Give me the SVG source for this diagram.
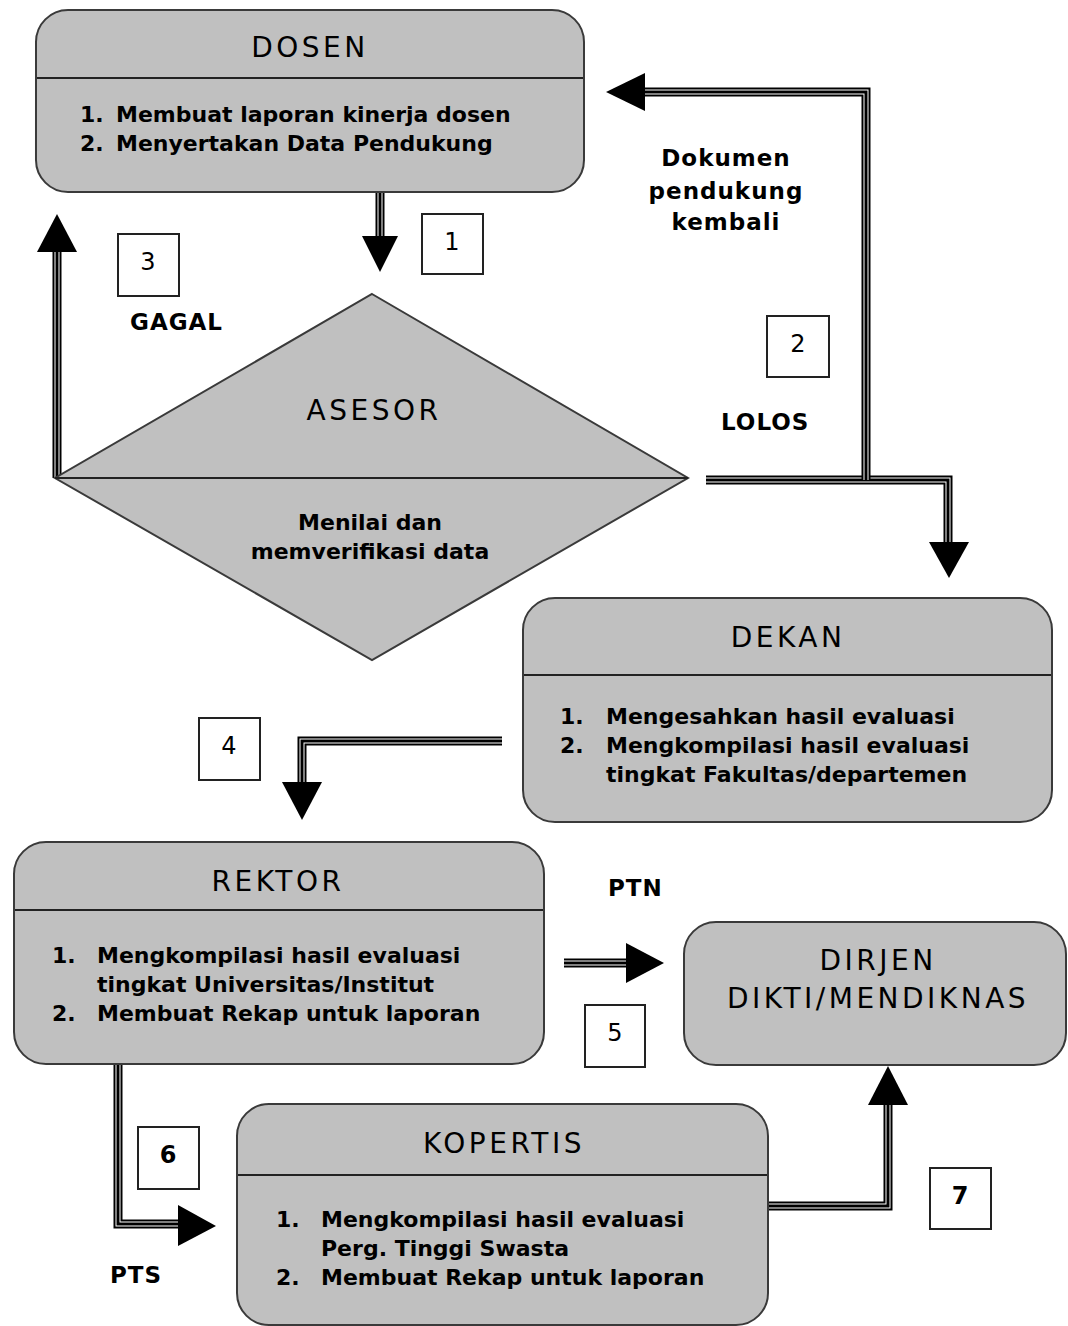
<svg xmlns="http://www.w3.org/2000/svg" width="1068" height="1326" viewBox="0 0 1068 1326">
<style>
.node{fill:#c0c0c0;stroke:#3a3a3a;stroke-width:2}
.div{stroke:#222;stroke-width:2}
.title{font-family:"DejaVu Sans",sans-serif;font-size:28px;letter-spacing:3.5px;fill:#000;text-anchor:middle}
.item{font-family:"DejaVu Sans",sans-serif;font-size:22px;font-weight:bold;fill:#000}
.lbl{font-family:"DejaVu Sans",sans-serif;font-size:23px;font-weight:bold;letter-spacing:1px;fill:#000}
.num{font-family:"DejaVu Sans",sans-serif;font-size:24px;fill:#000;text-anchor:middle}
.nbox{fill:#fff;stroke:#222;stroke-width:2}
.w1{fill:none;stroke:#000;stroke-width:9}
.w2{fill:none;stroke:#fff;stroke-width:5}
.w3{fill:none;stroke:#000;stroke-width:3}
.head{fill:#000}
</style>
<rect width="1068" height="1326" fill="#fff"/>

<g id="connectors">
  <!-- 1: DOSEN -> ASESOR -->
  <path class="w1" d="M380,192 V240"/><path class="w2" d="M380,192 V240"/><path class="w3" d="M380,192 V240"/>
  <polygon class="head" points="362,236 398,236 380,272"/>
  <!-- 3: GAGAL -->
  <path class="w1" d="M57,478 V248"/><path class="w2" d="M57,478 V248"/><path class="w3" d="M57,478 V248"/>
  <polygon class="head" points="37,252 77,252 57,214"/>
  <!-- 2: LOLOS -->
  <path class="w1" d="M706,480 H948 V546"/><path class="w2" d="M706,480 H948 V546"/><path class="w3" d="M706,480 H948 V546"/>
  <polygon class="head" points="929,542 969,542 949,578"/>
  <!-- Dokumen pendukung kembali -->
  <path class="w1" d="M866,480 V92 H640"/><path class="w2" d="M866,480 V92 H640"/><path class="w3" d="M866,480 V92 H640"/>
  <polygon class="head" points="645,73 645,111 606,92"/>
  <!-- 4: DEKAN -> REKTOR -->
  <path class="w1" d="M502,741 H302 V786"/><path class="w2" d="M502,741 H302 V786"/><path class="w3" d="M502,741 H302 V786"/>
  <polygon class="head" points="282,782 322,782 302,820"/>
  <!-- 5: REKTOR -> DIRJEN -->
  <path class="w1" d="M564,963 H630"/><path class="w2" d="M564,963 H630"/><path class="w3" d="M564,963 H630"/>
  <polygon class="head" points="626,943 626,983 664,963"/>
  <!-- 6: REKTOR -> KOPERTIS -->
  <path class="w1" d="M118,1064 V1224 H182"/><path class="w2" d="M118,1064 V1224 H182"/><path class="w3" d="M118,1064 V1224 H182"/>
  <polygon class="head" points="178,1205 178,1246 216,1226"/>
  <!-- 7: KOPERTIS -> DIRJEN -->
  <path class="w1" d="M768,1206 H888 V1100"/><path class="w2" d="M768,1206 H888 V1100"/><path class="w3" d="M768,1206 H888 V1100"/>
  <polygon class="head" points="868,1105 908,1105 888,1066"/>
</g>

<g id="dosen">
  <rect class="node" x="36" y="10" width="548" height="182" rx="32"/>
  <line class="div" x1="37" y1="78" x2="583" y2="78"/>
  <text class="title" x="310" y="57">DOSEN</text>
  <text class="item" x="80" y="122">1.</text><text class="item" x="116" y="122">Membuat laporan kinerja dosen</text>
  <text class="item" x="80" y="151">2.</text><text class="item" x="116" y="151">Menyertakan Data Pendukung</text>
</g>

<g id="asesor">
  <polygon class="node" points="372,294 688,478 372,660 55,478"/>
  <line class="div" x1="55" y1="478" x2="688" y2="478"/>
  <text class="title" x="374" y="420">ASESOR</text>
  <text class="item" x="370" y="530" text-anchor="middle">Menilai dan</text>
  <text class="item" x="370" y="559" text-anchor="middle">memverifikasi data</text>
</g>

<g id="dekan">
  <rect class="node" x="523" y="598" width="529" height="224" rx="32"/>
  <line class="div" x1="524" y1="675" x2="1051" y2="675"/>
  <text class="title" x="788" y="647">DEKAN</text>
  <text class="item" x="560" y="724">1.</text><text class="item" x="606" y="724">Mengesahkan hasil evaluasi</text>
  <text class="item" x="560" y="753">2.</text><text class="item" x="606" y="753">Mengkompilasi hasil evaluasi</text>
  <text class="item" x="606" y="782">tingkat Fakultas/departemen</text>
</g>

<g id="rektor">
  <rect class="node" x="14" y="842" width="530" height="222" rx="32"/>
  <line class="div" x1="15" y1="910" x2="543" y2="910"/>
  <text class="title" x="278" y="891">REKTOR</text>
  <text class="item" x="52" y="963">1.</text><text class="item" x="97" y="963">Mengkompilasi hasil evaluasi</text>
  <text class="item" x="97" y="992">tingkat Universitas/Institut</text>
  <text class="item" x="52" y="1021">2.</text><text class="item" x="97" y="1021">Membuat Rekap untuk laporan</text>
</g>

<g id="dirjen">
  <rect class="node" x="684" y="922" width="382" height="143" rx="32"/>
  <text class="title" x="878" y="970">DIRJEN</text>
  <text class="title" x="878" y="1008">DIKTI/MENDIKNAS</text>
</g>

<g id="kopertis">
  <rect class="node" x="237" y="1104" width="531" height="221" rx="32"/>
  <line class="div" x1="238" y1="1175" x2="767" y2="1175"/>
  <text class="title" x="504" y="1153">KOPERTIS</text>
  <text class="item" x="276" y="1227">1.</text><text class="item" x="321" y="1227">Mengkompilasi hasil evaluasi</text>
  <text class="item" x="321" y="1256">Perg. Tinggi Swasta</text>
  <text class="item" x="276" y="1285">2.</text><text class="item" x="321" y="1285">Membuat Rekap untuk laporan</text>
</g>

<g id="labels">
  <rect class="nbox" x="422" y="214" width="61" height="60"/><text class="num" x="452" y="250">1</text>
  <rect class="nbox" x="767" y="316" width="62" height="61"/><text class="num" x="798" y="352">2</text>
  <rect class="nbox" x="118" y="234" width="61" height="62"/><text class="num" x="148" y="270">3</text>
  <rect class="nbox" x="199" y="718" width="61" height="62"/><text class="num" x="229" y="754">4</text>
  <rect class="nbox" x="585" y="1005" width="60" height="62"/><text class="num" x="615" y="1041">5</text>
  <rect class="nbox" x="138" y="1127" width="61" height="62"/><text class="num" x="168" y="1163" font-weight="bold">6</text>
  <rect class="nbox" x="930" y="1168" width="61" height="61"/><text class="num" x="960" y="1204" font-weight="bold">7</text>
  <text class="lbl" x="130" y="330">GAGAL</text>
  <text class="lbl" x="721" y="430">LOLOS</text>
  <text class="lbl" x="726" y="166" text-anchor="middle">Dokumen</text>
  <text class="lbl" x="726" y="199" text-anchor="middle">pendukung</text>
  <text class="lbl" x="726" y="230" text-anchor="middle">kembali</text>
  <text class="lbl" x="608" y="896">PTN</text>
  <text class="lbl" x="110" y="1283">PTS</text>
</g>
</svg>
